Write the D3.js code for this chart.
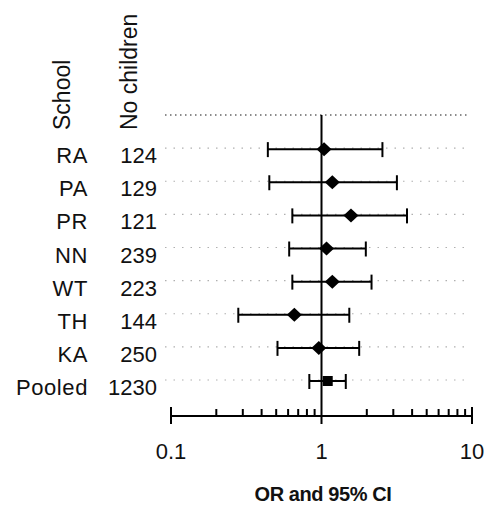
<!DOCTYPE html>
<html>
<head>
<meta charset="utf-8">
<script src="https://cdn.jsdelivr.net/npm/d3@7"></script>
<style>
  html, body { margin: 0; padding: 0; background: #fff; }
  svg { display: block; }
  text { font-family: "Liberation Sans", Arial, sans-serif; fill: #111; }
</style>
</head>
<body>
<svg id="chart" width="492" height="505"></svg>
<script>
// ---- data ----
const schools  = ["RA", "PA", "PR", "NN", "WT", "TH", "KA", "Pooled"];
const children = ["124", "129", "121", "239", "223", "144", "250", "1230"];
const orValue  = [1.04, 1.18, 1.57, 1.08, 1.18, 0.66, 0.96, 1.10];
const ciLower  = [0.44, 0.45, 0.64, 0.61, 0.64, 0.28, 0.51, 0.83];
const ciUpper  = [2.54, 3.17, 3.70, 1.97, 2.15, 1.53, 1.78, 1.45];
const majorTicks = [0.1, 1, 10];
const majorTickLabels = ["0.1", "1", "10"];
const minorTicks = [0.2,0.3,0.4,0.5,0.6,0.7,0.8,0.9,2,3,4,5,6,7,8,9];
const headers = ["School", "No children"];
const xTitle = "OR and 95% CI";

// ---- scales ----
const svg = d3.select("#chart");
const x = d3.scaleLog().domain([0.1, 10]).range([171, 472]);
const y = d3.scalePoint().domain(["__header"].concat(schools)).range([116, 381]);
const axisY = 416;

// dotted guide lines
const guideRows = ["__header"].concat(schools);
svg.append("g").selectAll("line").data(guideRows).join("line")
  .attr("x1", 165).attr("x2", 468)
  .attr("y1", d => y(d) - 1).attr("y2", d => y(d) - 1)
  .attr("stroke", d => d === "__header" ? "#666" : "#b0b0b0")
  .attr("stroke-width", d => d === "__header" ? 1.4 : 1.1)
  .attr("stroke-dasharray", d => d === "__header" ? "1.5,3.5" : "1.5,7");

// reference line at OR = 1
svg.append("line")
  .attr("x1", x(1)).attr("x2", x(1))
  .attr("y1", y("__header") - 1).attr("y2", axisY + 8)
  .attr("stroke", "#000").attr("stroke-width", 2);

// axis line
svg.append("line")
  .attr("x1", x(0.1)).attr("x2", x(10))
  .attr("y1", axisY).attr("y2", axisY)
  .attr("stroke", "#000").attr("stroke-width", 2);

// minor ticks (upwards)
svg.append("g").selectAll("line").data(minorTicks).join("line")
  .attr("x1", d => x(d)).attr("x2", d => x(d))
  .attr("y1", axisY).attr("y2", axisY - 7)
  .attr("stroke", "#000").attr("stroke-width", 2);

// end ticks
svg.append("g").selectAll("line").data([0.1, 10]).join("line")
  .attr("x1", d => x(d)).attr("x2", d => x(d))
  .attr("y1", axisY - 9).attr("y2", axisY + 8)
  .attr("stroke", "#000").attr("stroke-width", 2);

// tick labels
svg.append("g").selectAll("text").data(majorTicks).join("text")
  .attr("x", d => x(d)).attr("y", 459)
  .attr("text-anchor", "middle")
  .attr("font-size", 22)
  .text((d, i) => majorTickLabels[i]);

// x title
svg.append("text")
  .attr("x", 323).attr("y", 501)
  .attr("text-anchor", "middle")
  .attr("font-size", 20).attr("font-weight", "bold")
  .attr("letter-spacing", "-0.4")
  .text(xTitle);

// error bars
const rows = schools.map((s, i) => ({s, n: children[i], or: orValue[i], lo: ciLower[i], hi: ciUpper[i], pooled: s === "Pooled"}));
const g = svg.append("g");
g.selectAll("line.ci").data(rows).join("line").attr("class", "ci")
  .attr("x1", d => x(d.lo)).attr("x2", d => x(d.hi))
  .attr("y1", d => y(d.s)).attr("y2", d => y(d.s))
  .attr("stroke", "#000").attr("stroke-width", 2);
g.selectAll("line.capL").data(rows).join("line").attr("class", "capL")
  .attr("x1", d => x(d.lo)).attr("x2", d => x(d.lo))
  .attr("y1", d => y(d.s) - 7).attr("y2", d => y(d.s) + 8)
  .attr("stroke", "#000").attr("stroke-width", 2);
g.selectAll("line.capR").data(rows).join("line").attr("class", "capR")
  .attr("x1", d => x(d.hi)).attr("x2", d => x(d.hi))
  .attr("y1", d => y(d.s) - 7).attr("y2", d => y(d.s) + 8)
  .attr("stroke", "#000").attr("stroke-width", 2);

// markers
g.selectAll("path.mk").data(rows.filter(d => !d.pooled)).join("path").attr("class", "mk")
  .attr("transform", d => `translate(${x(d.or)},${y(d.s)})`)
  .attr("d", "M0,-7 L7.5,0 L0,7 L-7.5,0 Z")
  .attr("fill", "#000");
g.selectAll("rect.mk").data(rows.filter(d => d.pooled)).join("rect").attr("class", "mk")
  .attr("x", d => x(d.or) - 5).attr("y", d => y(d.s) - 5)
  .attr("width", 10).attr("height", 10)
  .attr("fill", "#000");

// row labels
svg.append("g").selectAll("text").data(rows).join("text")
  .attr("x", 88).attr("y", d => y(d.s) + 14)
  .attr("text-anchor", "end").attr("font-size", 22)
  .attr("letter-spacing", "0.6")
  .text(d => d.s);
svg.append("g").selectAll("text").data(rows).join("text")
  .attr("x", 157).attr("y", d => y(d.s) + 14)
  .attr("text-anchor", "end").attr("font-size", 22)
  .text(d => d.n);

// rotated headers
svg.append("text")
  .attr("transform", "translate(70,130) rotate(-90)")
  .attr("font-size", 23)
  .text(headers[0]);
svg.append("text")
  .attr("transform", "translate(137,130) rotate(-90)")
  .attr("font-size", 23)
  .text(headers[1]);
</script>
</body>
</html>
